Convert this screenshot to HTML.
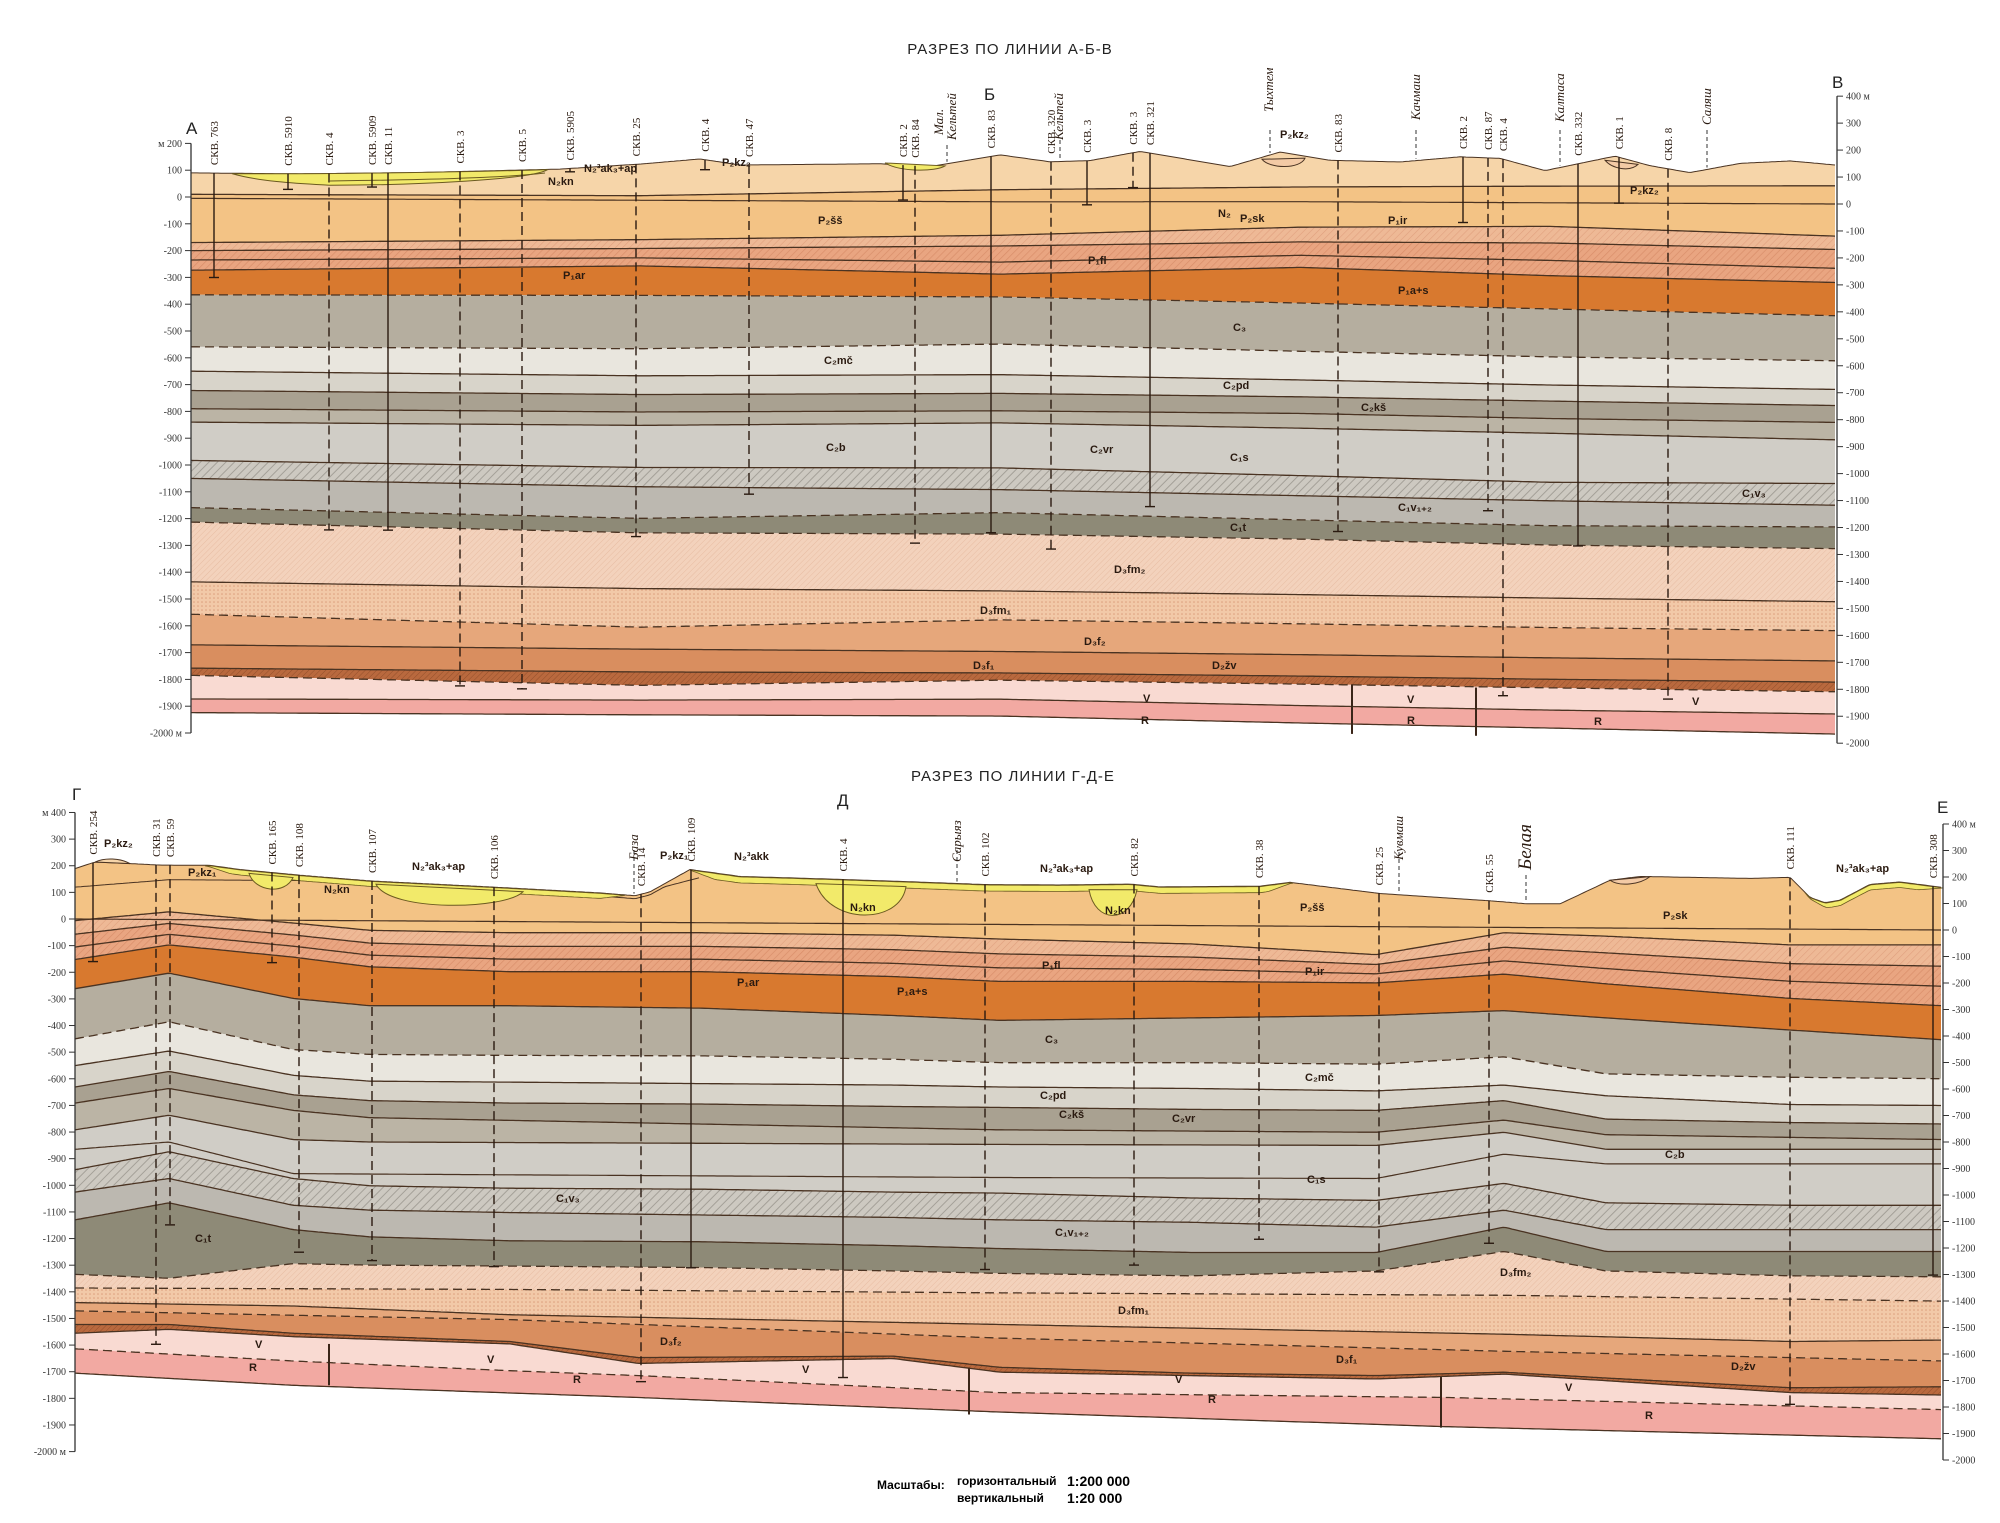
<!DOCTYPE html>
<html><head><meta charset="utf-8">
<style>
html,body{margin:0;padding:0;background:#fff;}
svg{display:block;}
.t{font-family:"Liberation Sans",sans-serif;}
.fl{font-family:"Liberation Sans",sans-serif;font-size:11px;font-weight:bold;fill:#2a1a10;}
.rv{font-family:"Liberation Serif",serif;font-style:italic;font-size:13px;fill:#2a1a10;}
.big{font-family:"Liberation Sans",sans-serif;font-size:15px;fill:#222;}
</style></head><body>
<svg width="2000" height="1523" viewBox="0 0 2000 1523">
<defs>
<pattern id="hPk" width="5" height="5" patternUnits="userSpaceOnUse" patternTransform="rotate(45)"><rect width="5" height="5" fill="#e9a581"/><line x1="0" y1="0" x2="0" y2="5" stroke="#d98e6a" stroke-width="1.4"/></pattern>
<pattern id="hPk2" width="5" height="5" patternUnits="userSpaceOnUse" patternTransform="rotate(45)"><rect width="5" height="5" fill="#eeb996"/><line x1="0" y1="0" x2="0" y2="5" stroke="#e0a07e" stroke-width="1.2"/></pattern>
<pattern id="hGr" width="6" height="6" patternUnits="userSpaceOnUse" patternTransform="rotate(45)"><rect width="6" height="6" fill="#cdc9c1"/><line x1="0" y1="0" x2="0" y2="6" stroke="#a4a098" stroke-width="2"/></pattern>
<pattern id="hFm" width="4" height="4" patternUnits="userSpaceOnUse" patternTransform="rotate(45)"><rect width="4" height="4" fill="#f3d2bc"/><line x1="0" y1="0" x2="0" y2="4" stroke="#e7bca2" stroke-width="1"/></pattern>
<pattern id="dt" width="4" height="4" patternUnits="userSpaceOnUse"><rect width="4" height="4" fill="#f2c9a8"/><circle cx="2" cy="2" r="0.8" fill="#dc9e7c"/></pattern>
<pattern id="hZv" width="4" height="4" patternUnits="userSpaceOnUse" patternTransform="rotate(45)"><rect width="4" height="4" fill="#b9693e"/><line x1="0" y1="0" x2="0" y2="4" stroke="#94502c" stroke-width="1"/></pattern>
</defs>
<g id="gen"></g>

<text class="big" x="1010" y="54" text-anchor="middle" letter-spacing="1">РАЗРЕЗ ПО ЛИНИИ А-Б-В</text>
<text class="big" x="1013" y="781" text-anchor="middle" letter-spacing="1">РАЗРЕЗ ПО ЛИНИИ Г-Д-Е</text>
<text class="big" x="186" y="134" style="font-size:17px">А</text>
<text class="big" x="984" y="100" style="font-size:17px">Б</text>
<text class="big" x="1832" y="88" style="font-size:17px">В</text>
<text class="big" x="72" y="800" style="font-size:17px">Г</text>
<text class="big" x="837" y="806" style="font-size:17px">Д</text>
<text class="big" x="1937" y="813" style="font-size:17px">Е</text>

<g class="fl">
<text x="818" y="224">P₂šš</text>
<text x="563" y="279">P₁ar</text>
<text x="1088" y="264">P₁fl</text>
<text x="1240" y="222">P₂sk</text>
<text x="1388" y="224">P₁ir</text>
<text x="1398" y="294">P₁a+s</text>
<text x="1233" y="331">C₃</text>
<text x="824" y="364">C₂mč</text>
<text x="1223" y="389">C₂pd</text>
<text x="1361" y="411">C₂kš</text>
<text x="826" y="451">C₂b</text>
<text x="1090" y="453">C₂vr</text>
<text x="1230" y="461">C₁s</text>
<text x="1398" y="511">C₁v₁₊₂</text>
<text x="1742" y="497">C₁v₃</text>
<text x="1230" y="531">C₁t</text>
<text x="1114" y="573">D₃fm₂</text>
<text x="980" y="614">D₃fm₁</text>
<text x="1084" y="645">D₃f₂</text>
<text x="973" y="669">D₃f₁</text>
<text x="1212" y="669">D₂žv</text>
<text x="1143" y="702">V</text><text x="1407" y="703">V</text><text x="1692" y="705">V</text>
<text x="1141" y="724">R</text><text x="1407" y="724">R</text><text x="1594" y="725">R</text>
<text x="548" y="185">N₂kn</text>
<text x="584" y="172">N₂³ak₃+ap</text>
<text x="722" y="166">P₂kz₂</text>
<text x="1218" y="217">N₂</text>
<text x="1280" y="138">P₂kz₂</text>
<text x="1630" y="194">P₂kz₂</text>
</g>
<g class="fl">
<text x="104" y="847">P₂kz₂</text>
<text x="188" y="876">P₂kz₁</text>
<text x="324" y="893">N₂kn</text>
<text x="412" y="870">N₂³ak₃+ap</text>
<text x="660" y="859">P₂kz₁</text>
<text x="734" y="860">N₂³akk</text>
<text x="850" y="911">N₂kn</text>
<text x="1040" y="872">N₂³ak₃+ap</text>
<text x="1105" y="914">N₂kn</text>
<text x="1300" y="911">P₂šš</text>
<text x="1663" y="919">P₂sk</text>
<text x="1305" y="975">P₁ir</text>
<text x="1042" y="969">P₁fl</text>
<text x="737" y="986">P₁ar</text>
<text x="897" y="995">P₁a+s</text>
<text x="1045" y="1043">C₃</text>
<text x="1305" y="1081">C₂mč</text>
<text x="1040" y="1099">C₂pd</text>
<text x="1059" y="1118">C₂kš</text>
<text x="1172" y="1122">C₂vr</text>
<text x="1665" y="1158">C₂b</text>
<text x="1307" y="1183">C₁s</text>
<text x="556" y="1202">C₁v₃</text>
<text x="195" y="1242">C₁t</text>
<text x="1055" y="1236">C₁v₁₊₂</text>
<text x="1500" y="1276">D₃fm₂</text>
<text x="1118" y="1314">D₃fm₁</text>
<text x="660" y="1345">D₃f₂</text>
<text x="1336" y="1363">D₃f₁</text>
<text x="1731" y="1370">D₂žv</text>
<text x="1836" y="872">N₂³ak₃+ap</text>
<text x="255" y="1348">V</text><text x="487" y="1363">V</text><text x="802" y="1373">V</text><text x="1175" y="1383">V</text><text x="1565" y="1391">V</text>
<text x="249" y="1371">R</text><text x="573" y="1383">R</text><text x="1208" y="1403">R</text><text x="1645" y="1419">R</text>
</g>
<g class="rv">
<text transform="translate(943,135) rotate(-90)">Мал.</text>
<text transform="translate(956,140) rotate(-90)">Кельтей</text>
<text transform="translate(1063,140) rotate(-90)">Кельтей</text>
<text transform="translate(1273,112) rotate(-90)">Тыхтем</text>
<text transform="translate(1420,120) rotate(-90)">Качмаш</text>
<text transform="translate(1564,122) rotate(-90)">Калтаса</text>
<text transform="translate(1711,125) rotate(-90)">Саляш</text>
<text transform="translate(638,860) rotate(-90)">База</text>
<text transform="translate(961,862) rotate(-90)">Сарыяз</text>
<text transform="translate(1403,860) rotate(-90)">Кувмаш</text>
<text transform="translate(1531,870) rotate(-90)" style="font-size:19px">Белая</text>
</g>
<text class="t" x="877" y="1489" style="font-size:12px;font-weight:bold">Масштабы:</text>
<text class="t" x="957" y="1485" style="font-size:12px;font-weight:bold">горизонтальный</text>
<text class="t" x="957" y="1502" style="font-size:12px;font-weight:bold">вертикальный</text>
<text class="t" x="1067" y="1486" style="font-size:14px;font-weight:bold">1:200 000</text>
<text class="t" x="1067" y="1503" style="font-size:14px;font-weight:bold">1:20 000</text>
</svg>
<script>
function ip(p,x){if(x<=p[0][0])return p[0][1];for(var i=1;i<p.length;i++){if(x<=p[i][0]){var a=p[i-1],b=p[i];return a[1]+(b[1]-a[1])*(x-a[0])/(b[0]-a[0]);}}return p[p.length-1][1];}
var out=[];
function poly(fu,fl,x0,x1,fill,extra){var a=[],b=[];for(var x=x0;x<=x1+0.01;x+=3){var xx=Math.min(x,x1);var u=fu(xx),l=Math.max(fl(xx),u);a.push(xx.toFixed(1)+','+u.toFixed(1));b.unshift(xx.toFixed(1)+','+l.toFixed(1));}
out.push('<polygon points="'+a.concat(b).join(' ')+'" fill="'+fill+'"'+(extra||'')+'/>');}
function line(f,x0,x1,dash,w,col){var a=[];for(var x=x0;x<=x1+0.01;x+=3){var xx=Math.min(x,x1);a.push(xx.toFixed(1)+','+f(xx).toFixed(1));}
out.push('<polyline points="'+a.join(' ')+'" fill="none" stroke="'+(col||'#4a3322')+'" stroke-width="'+(w||1.2)+'"'+(dash?' stroke-dasharray="9,5"':'')+'/>');}
// ---------- TOP PANEL ----------
var TX0=191,TX1=1837;
function yT(x,m){return 197+7*(x-TX0)/1646-m*0.268;}
var X=[191,640,1000,1300,1550,1837];
function mk(a){return a.map(function(v,i){return [X[i],v];});}
function fT(p){return function(x){return yT(x,ip(p,x));};}
var TS=[[191,90],[300,88],[420,95],[560,110],[640,130],[700,150],[740,128],[880,135],[930,125],[1000,170],[1050,145],[1090,150],[1140,185],[1230,130],[1280,185],[1330,155],[1400,150],[1460,170],[1500,165],[1545,120],[1615,175],[1650,140],[1690,115],[1740,150],[1790,160],[1837,145]];
var tb=[
[10,12,40,55,62,68],
[-170,-152,-130,-95,-88,-120],
[-200,-185,-170,-150,-150,-170],
[-235,-220,-230,-200,-215,-240],
[-273,-250,-275,-245,-272,-293],
[-365,-360,-360,-378,-396,-417],
[-559,-559,-536,-558,-575,-585],
[-650,-660,-650,-665,-680,-692],
[-722,-730,-720,-728,-740,-752],
[-790,-795,-785,-790,-805,-815],
[-840,-845,-830,-845,-860,-880],
[-983,-1002,-998,-1022,-1043,-1043],
[-1050,-1074,-1079,-1097,-1112,-1124],
[-1159,-1192,-1165,-1187,-1205,-1205],
[-1213,-1246,-1245,-1259,-1277,-1286],
[-1436,-1454,-1457,-1466,-1475,-1484],
[-1557,-1598,-1565,-1575,-1585,-1592],
[-1671,-1680,-1683,-1690,-1698,-1705],
[-1758,-1765,-1763,-1770,-1778,-1784],
[-1785,-1815,-1790,-1800,-1810,-1820],
[-1873,-1870,-1861,-1880,-1893,-1903],
[-1924,-1925,-1924,-1945,-1960,-1978]];
var tf=[fT(TS)].concat(tb.map(function(a){return fT(mk(a));}));
var tfill=['#f6d5a9','#f3c385','url(#hPk2)','url(#hPk)','url(#hPk)','#d8792f','#b5ae9f','#e9e6de','#d8d4ca','#a9a191','#bbb4a5','#d0cdc6','url(#hGr)','#bcb8b0','#8e8a77','url(#hFm)','url(#dt)','#e6a77b','#d98e5f','url(#hZv)','#f9dad2','#f2a9a2'];
for(var i=0;i<tf.length-1;i++)poly(tf[i],tf[i+1],TX0,TX1,tfill[i]);
line(fT(mk([-5,-5,-5,0,0,0])),TX0,TX1);
var tdash=[0,0,0,0,0,0,1,1,0,0,0,0,0,0,1,1,0,1,0,0,1,0];
for(var i=0;i<tf.length;i++){line(tf[i],TX0,TX1,tdash[i],i==0?1:1.3);}
var sT=function(x){return yT(x,ip(TS,x));};
// yellow lenses top
out.push('<path d="M232,'+yT(232,88)+' C300,'+yT(300,86)+' 450,'+yT(450,95)+' 548,'+yT(548,108)+' C530,'+yT(530,70)+' 420,'+yT(420,48)+' 330,'+yT(330,46)+' C300,'+yT(300,52)+' 260,'+yT(260,58)+' 232,'+yT(232,88)+'Z" fill="#f2ea6a" stroke="#6b5a20" stroke-width="1"/>');
out.push('<path d="M330,'+yT(330,62)+' C420,'+yT(420,68)+' 500,'+yT(500,75)+' 545,'+yT(545,95)+'" fill="none" stroke="#6b5a20" stroke-width="1"/>');
out.push('<path d="M885,'+yT(885,138)+' C900,'+yT(900,105)+' 935,'+yT(935,105)+' 945,'+yT(945,128)+'Z" fill="#f2ea6a" stroke="#6b5a20" stroke-width="1"/>');
out.push('<path d="M1262,'+(sT(1262)+2)+' C1270,'+(sT(1270)+14)+' 1300,'+(sT(1300)+14)+' 1305,'+(sT(1305)+2)+'Z" fill="#f3caa5" stroke="#4a3322"/>');
out.push('<path d="M1605,'+(sT(1605)+2)+' C1612,'+(sT(1612)+12)+' 1630,'+(sT(1630)+12)+' 1638,'+(sT(1638)+2)+'Z" fill="#f3caa5" stroke="#4a3322"/>');
[[1352,-1800,-1985],[1476,-1810,-1990]].forEach(function(f){out.push('<line x1="'+f[0]+'" y1="'+yT(f[0],f[1])+'" x2="'+f[0]+'" y2="'+yT(f[0],f[2])+'" stroke="#3a2518" stroke-width="2"/>');});
function axis(x,y0,k,top,bot,side){out.push('<line x1="'+x+'" y1="'+(y0-top*k)+'" x2="'+x+'" y2="'+(y0-bot*k)+'" stroke="#333" stroke-width="1.3"/>');
for(var m=top;m>=bot;m-=100){var y=y0-m*k;out.push('<line x1="'+(side<0?x-6:x)+'" y1="'+y+'" x2="'+(side<0?x:x+6)+'" y2="'+y+'" stroke="#333" stroke-width="1"/>');
var s=(m<0?'-':'')+Math.abs(m);if(m==top||m==bot)s=side<0?(m==top?'м '+s:s+' м'):(m==top?s+' м':s);
out.push('<text x="'+(side<0?x-9:x+9)+'" y="'+(y+3.5)+'" font-family="Liberation Serif,serif" font-size="10" fill="#333" text-anchor="'+(side<0?'end':'start')+'">'+s+'</text>');}}
axis(191,197,0.268,200,-2000,-1);
axis(1837,204,0.2696,400,-2000,1);
function well(f,x,m,dash,lab,sy){var y1=sy(x),y2=f(x,m);out.push('<line x1="'+x+'" y1="'+y1+'" x2="'+x+'" y2="'+y2+'" stroke="#2a1a10" stroke-width="1.4"'+(dash?' stroke-dasharray="9,5"':'')+'/>');
out.push('<line x1="'+(x-5)+'" y1="'+y2+'" x2="'+(x+5)+'" y2="'+y2+'" stroke="#2a1a10" stroke-width="1.4"/>');
out.push('<text transform="translate('+(x+4)+','+(y1-8)+') rotate(-90)" font-family="Liberation Serif,serif" font-size="11" fill="#2a1a10">'+lab+'</text>');}
[[214,-300,0,'СКВ. 763'],[288,30,0,'СКВ. 5910'],[329,-1240,1,'СКВ. 4'],[372,40,0,'СКВ. 5909'],[388,-1240,0,'СКВ. 11'],[460,-1820,1,'СКВ. 3'],[522,-1830,1,'СКВ. 5'],[570,100,0,'СКВ. 5905'],[636,-1260,1,'СКВ. 25'],[705,110,0,'СКВ. 4'],[749,-1100,1,'СКВ. 47'],[903,0,0,'СКВ. 2'],[915,-1280,1,'СКВ. 84'],[991,-1240,0,'СКВ. 83'],[1051,-1300,1,'СКВ. 320'],[1087,-15,0,'СКВ. 3'],[1133,50,1,'СКВ. 3'],[1150,-1140,0,'СКВ. 321'],[1338,-1230,1,'СКВ. 83'],[1463,-75,0,'СКВ. 2'],[1488,-1150,1,'СКВ. 87'],[1503,-1840,1,'СКВ. 4'],[1578,-1280,0,'СКВ. 332'],[1619,0,0,'СКВ. 1'],[1668,-1850,1,'СКВ. 8']].forEach(function(w){well(yT,w[0],w[1],w[2],w[3],sT);});
[947,1060,1270,1416,1560,1707].forEach(function(x){out.push('<line x1="'+x+'" y1="'+(x==947?145:(x==1060?140:130))+'" x2="'+x+'" y2="'+(sT(x)-2)+'" stroke="#333" stroke-dasharray="4,3"/>');});

// ---------- BOTTOM PANEL ----------
var BX0=75,BX1=1943;
function yB0(x){return 919+11*(x-BX0)/1868;}
function yB(x,m){return yB0(x)-m*0.2655;}
function fZ(p){return function(x){return ip(p,x)/2.055+760;};}
var BS=[[75,190],[95,215],[130,210],[160,205],[210,205],[240,190],[300,170],[370,150],[490,130],[600,110],[635,100],[650,115],[690,200],[740,175],[800,170],[900,160],[985,150],[1060,150],[1130,155],[1160,145],[1260,150],[1290,165],[1380,125],[1490,100],[1525,90],[1560,90],[1610,180],[1640,195],[1750,190],[1790,195],[1810,120],[1825,100],[1840,110],[1870,170],[1900,180],[1943,160]];
var sB=function(x){return yB(x,ip(BS,x));};
var Pa=[[75,330],[169,312],[293,335],[370,350],[510,355],[702,355],[893,360],[1000,368],[1191,378],[1376,400],[1504,355],[1606,362],[1791,380],[1943,380]];
var Pb=[[75,410],[169,380],[293,405],[370,425],[510,435],[702,435],[893,445],[1000,455],[1191,455],[1376,458],[1504,440],[1606,460],[1791,490],[1943,505]];
function mid(A,B,t){var xs=[];A.concat(B).forEach(function(p){if(xs.indexOf(p[0])<0)xs.push(p[0]);});xs.sort(function(a,b){return a-b;});return xs.map(function(x){return [x,ip(A,x)+(ip(B,x)-ip(A,x))*t];});}
var bb=[Pa,mid(Pa,Pb,0.35),mid(Pa,Pb,0.68),Pb,
[[75,470],[169,438],[293,490],[370,505],[510,505],[702,510],[893,525],[1000,535],[1191,530],[1376,525],[1504,515],[1606,530],[1791,555],[1943,575]],
[[75,573],[169,538],[293,595],[370,605],[510,607],[702,608],[893,615],[1000,622],[1191,622],[1376,625],[1504,610],[1606,645],[1791,652],[1943,655]],
[[75,628],[169,598],[293,648],[370,660],[510,662],[702,665],[893,668],[1000,672],[1191,675],[1376,680],[1504,668],[1606,690],[1791,708],[1943,710]],
[[75,672],[169,640],[293,688],[370,700],[510,705],[702,707],[893,712],[1000,714],[1191,718],[1376,720],[1504,700],[1606,738],[1791,745],[1943,748]],
[[75,705],[169,675],[293,720],[370,735],[1000,760],[1376,765],[1504,740],[1606,770],[1943,780]],
[[75,760],[169,730],[293,780],[370,785],[1000,790],[1376,792],[1504,765],[1606,800],[1943,800]],
[[75,842],[169,805],[293,860],[370,875],[510,880],[702,882],[893,888],[1000,890],[1191,900],[1376,905],[1504,870],[1606,910],[1791,915],[1943,915]],
[[75,888],[169,860],[293,915],[370,925],[510,930],[702,935],[893,940],[1000,945],[1191,950],[1376,960],[1504,925],[1606,965],[1943,965]],
[[75,945],[169,910],[293,965],[370,980],[510,988],[702,990],[893,998],[1000,1004],[1191,1012],[1376,1012],[1504,960],[1606,1010],[1943,1010]],
[[75,1057],[169,1065],[293,1035],[370,1038],[510,1040],[702,1043],[893,1050],[1000,1055],[1191,1060],[1376,1050],[1504,1010],[1606,1050],[1791,1060],[1943,1062]],
[[75,1085],[510,1088],[1000,1095],[1504,1100],[1943,1112]],
[[75,1115],[293,1122],[510,1140],[1000,1160],[1504,1180],[1791,1195],[1943,1192]],
[[75,1132],[510,1150],[1000,1188],[1504,1215],[1943,1235]],
[[75,1160],[169,1160],[293,1178],[510,1195],[638,1228],[893,1225],[1000,1248],[1191,1260],[1376,1265],[1504,1258],[1606,1270],[1791,1290],[1943,1288]],
[[75,1178],[169,1170],[293,1185],[510,1200],[638,1240],[893,1230],[1000,1258],[1376,1272],[1504,1262],[1791,1300],[1943,1305]],
[[75,1210],[293,1235],[510,1255],[638,1265],[1000,1300],[1446,1310],[1943,1335]],
[[75,1260],[293,1285],[638,1310],[1000,1340],[1446,1370],[1943,1395]]];
var bf=[sB].concat(bb.map(fZ));
var Pi=fZ([[75,800],[169,785],[293,850],[1000,858],[1376,860],[1504,810],[1606,830],[1943,830]]);
var bfill=['#f3c385','url(#hPk2)','url(#hPk)','url(#hPk)','#d8792f','#b5ae9f','#e9e6de','#d8d4ca','#a9a191','#bbb4a5','#d0cdc6','url(#hGr)','#bcb8b0','#8e8a77','url(#hFm)','url(#dt)','#e6a77b','#d98e5f','url(#hZv)','#f9dad2','#f2a9a2'];
for(var i=0;i<bf.length-1;i++)poly(bf[i],bf[i+1],BX0,BX1,bfill[i]);
line(function(x){return yB(x,0);},BX0,BX1,0,1.2);
line(function(x){return Math.max(sB(x)+3,yB(x,ip([[75,120],[169,150],[300,150],[640,110],[700,170],[1000,140],[1943,140]],x)));},75,700,0,1);
line(Pi,BX0,BX1,0,1.2);
var bdash=[0,0,0,0,0,0,1,0,0,0,0,0,0,0,1,1,0,1,0,0,1,0];
for(var i=0;i<bf.length;i++){line(bf[i],BX0,BX1,bdash[i],i==0?1:1.3);}
// yellow bands following surface
function band(x0,x1,th){poly(function(x){return sB(x)+0.5;},function(x){var t=Math.min(1,Math.min(x-x0,x1-x)/25);return sB(x)+0.5+th*t;},x0,x1,'#f2ea6a',' stroke="#6b5a20" stroke-width="0.8"');}
band(205,625,5);
band(690,1293,6);
band(1805,1943,5);
out.push('<path d="M249,'+(sB(249)+3)+' C255,892 285,895 293,'+(sB(293)+3)+'Z" fill="#f2ea6a" stroke="#6b5a20"/>');
out.push('<path d="M376,'+(sB(376)+3)+' C390,912 505,910 523,'+(sB(523)+3)+'Z" fill="#f2ea6a" stroke="#6b5a20"/>');
out.push('<path d="M816,'+(sB(816)+5)+' C830,925 900,925 906,'+(sB(906)+5)+'Z" fill="#f2ea6a" stroke="#6b5a20"/>');
out.push('<path d="M1089,'+(sB(1089)+5)+' C1095,924 1130,924 1137,'+(sB(1137)+5)+'Z" fill="#f2ea6a" stroke="#6b5a20"/>');
out.push('<path d="M95,'+sB(95)+' C105,'+(sB(105)-5)+' 120,'+(sB(120)-5)+' 130,'+sB(130)+'Z" fill="#f6d5a9" stroke="#4a3322"/>');
out.push('<path d="M1610,'+sB(1610)+' L1650,'+sB(1650)+' C1640,'+(sB(1640)+8)+' 1620,'+(sB(1620)+8)+' 1610,'+sB(1610)+'Z" fill="#f3caa5" stroke="#4a3322"/>');
function Y(zy){return zy/2.055+760;}
[[329,1200,1285],[969,1250,1345],[1441,1268,1372]].forEach(function(f){out.push('<line x1="'+f[0]+'" y1="'+Y(f[1])+'" x2="'+f[0]+'" y2="'+Y(f[2])+'" stroke="#3a2518" stroke-width="2"/>');});
axis(75,919,0.2663,400,-2000,-1);
axis(1943,930,0.265,400,-2000,1);
[[93,-160,0,'СКВ. 254'],[156,-1600,1,'СКВ. 31'],[170,-1150,1,'СКВ. 59'],[272,-160,1,'СКВ. 165'],[299,-1250,1,'СКВ. 108'],[372,-1280,1,'СКВ. 107'],[494,-1300,1,'СКВ. 106'],[641,-1730,1,'СКВ. 14'],[691,-1300,0,'СКВ. 109'],[843,-1710,0,'СКВ. 4'],[985,-1300,1,'СКВ. 102'],[1134,-1280,1,'СКВ. 82'],[1259,-1180,1,'СКВ. 38'],[1379,-1300,1,'СКВ. 25'],[1489,-1190,1,'СКВ. 55'],[1790,-1790,1,'СКВ. 111'],[1933,-1300,0,'СКВ. 308']].forEach(function(w){well(yB,w[0],w[1],w[2],w[3],sB);});
[[634,850],[957,850],[1399,852],[1526,875]].forEach(function(r){out.push('<line x1="'+r[0]+'" y1="'+r[1]+'" x2="'+r[0]+'" y2="'+(sB(r[0])-2)+'" stroke="#333" stroke-dasharray="4,3"/>');});
document.getElementById('gen').innerHTML=out.join('');
</script>
</body></html>
